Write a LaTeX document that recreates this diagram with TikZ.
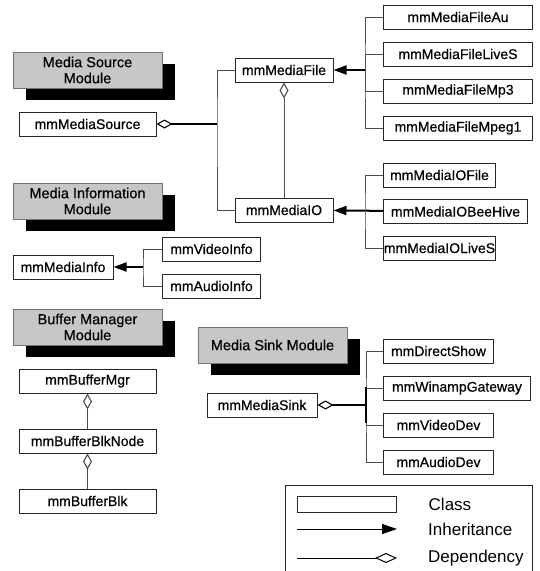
\documentclass[tikz,border=0pt]{standalone}
\usepackage{fontspec}
\setmainfont{Liberation Sans}
\newfontfamily\umlfont{Liberation Sans}[UprightFeatures={FakeBold=0.5}]
\usetikzlibrary{positioning,arrows.meta,shadows}

\begin{document}
\begin{tikzpicture}[
  x=1pt, y=-1pt,
  box/.style={rectangle,draw=black!85,line width=1pt,fill=white,inner sep=0pt,minimum height=24pt,font=\umlfont\fontsize{14}{16}\selectfont},
  modbox/.style={rectangle,draw=black!55,line width=1pt,fill=black!22,inner sep=0pt,minimum width=149pt,minimum height=36pt,align=center,font=\umlfont\fontsize{14.5}{16}\selectfont,general shadow={fill=black,shadow xshift=13pt,shadow yshift=-12pt}},
  link/.style={draw=black!70,line width=0.9pt},
  bus/.style={draw=black,line width=2pt},
  inherit/.style={-{Triangle[length=13pt,width=9pt]}},
  depend/.style={-{Diamond[open,length=16pt,width=9pt,line width=1.1pt]}},
  legtext/.style={inner sep=0pt,font=\fontsize{17}{19}\selectfont}
]
  \useasboundingbox (0,0) rectangle (539,571);

  % modules
  \node [modbox] (srcmod) at (87.5,70) {Media Source\\Module};
  \node [modbox] (infomod) at (87.5,201) {Media Information\\Module};
  \node [modbox] (bufmod) at (87.5,327) {Buffer Manager\\Module};
  \node [modbox] (sinkmod) at (272.5,345) {Media Sink Module};

  % media source
  \node [box,minimum width=137pt] (src) at (87.5,124) {mmMediaSource};
  \node [box,minimum width=98pt] (file) at (284,70) {mmMediaFile};
  \node [box,minimum width=98pt] (io) at (284,210) {mmMediaIO};
  \coordinate (srcj) at (217,124);
  \draw [bus,depend] (srcj) -- (src);
  \draw [link] (file.west) -| (srcj) |- (io.west);
  \draw [link,depend] (io.north) -- (file.south);

  \node [box,minimum width=149pt,anchor=west] (au) at (383,17) {mmMediaFileAu};
  \node [box,minimum width=149pt,below=12pt of au.south west,anchor=north west] (lives) {mmMediaFileLiveS};
  \node [box,minimum width=149pt,below=12pt of lives.south west,anchor=north west] (mp3) {mmMediaFileMp3};
  \node [box,minimum width=149pt,below=12pt of mp3.south west,anchor=north west] (mpeg1) {mmMediaFileMpeg1};
  \coordinate (filej) at (365,70);
  \draw [bus,inherit] (filej) -- (file);
  \draw [link] (au.west) -| (filej) |- (mpeg1.west);
  \draw [link] (lives.west) -| (filej);
  \draw [link] (mp3.west) -| (filej);

  \node [box,minimum width=112pt,anchor=west] (iofile) at (383,175) {mmMediaIOFile};
  \node [box,minimum width=144pt,below=11.5pt of iofile.south west,anchor=north west] (bee) {mmMediaIOBeeHive};
  \node [box,minimum width=112pt,below=11.5pt of bee.south west,anchor=north west] (iolives) {mmMediaIOLiveS};
  \coordinate (ioj) at (365,210);
  \draw [bus,inherit] (bee) -- (io);
  \draw [link] (iofile.west) -| (ioj) |- (iolives.west);

  % media information
  \node [box,minimum width=100pt] (info) at (63,267) {mmMediaInfo};
  \node [box,minimum width=98pt,anchor=west] (video) at (162,249) {mmVideoInfo};
  \node [box,minimum width=98pt,below=12pt of video.south west,anchor=north west] (audio) {mmAudioInfo};
  \coordinate (infoj) at (143,267);
  \draw [bus,inherit] (infoj) -- (info);
  \draw [link] (video.west) -| (infoj) |- (audio.west);

  % buffer manager
  \node [box,minimum width=137pt] (mgr) at (87.5,381) {mmBufferMgr};
  \node [box,minimum width=137pt,below=35pt of mgr] (blknode) {mmBufferBlkNode};
  \node [box,minimum width=137pt,below=35pt of blknode] (blk) {mmBufferBlk};
  \draw [link,depend] (blknode) -- (mgr);
  \draw [link,depend] (blk) -- (blknode);

  % media sink
  \node [box,minimum width=110pt] (sink) at (262,405) {mmMediaSink};
  \node [box,minimum width=110pt,anchor=west] (dshow) at (383,351) {mmDirectShow};
  \node [box,minimum width=147pt,below=12pt of dshow.south west,anchor=north west] (winamp) {mmWinampGateway};
  \node [box,minimum width=110pt,below=12pt of winamp.south west,anchor=north west] (vdev) {mmVideoDev};
  \node [box,minimum width=110pt,below=12pt of vdev.south west,anchor=north west] (adev) {mmAudioDev};
  \coordinate (sinkj) at (366,405);
  \draw [bus,depend] (sinkj) -- (sink);
  \draw [link] (dshow.west) -| (sinkj) |- (adev.west);
  \draw [link] (winamp.west) -| (sinkj);
  \draw [link] (vdev.west) -| (sinkj);
  \draw [bus] ([yshift=18pt]sinkj) -- ([yshift=-18pt]sinkj);

  % legend
  \draw [line width=1pt,black!85] (285,485) rectangle (532,590);
  \node [box,minimum width=99pt,minimum height=16pt] (lgclass) at (346.5,504) {};
  \node [legtext,right=32pt of lgclass] (lgclasst) {Class};
  \coordinate (lginha) at (297,529);
  \coordinate (lginhb) at (397,529);
  \draw [black,line width=1pt,-{Triangle[length=15pt,width=10pt]}] (lginha) -- (lginhb);
  \node [legtext,right=31pt of lginhb] (lginht) {Inheritance};
  \coordinate (lgdepa) at (297,558);
  \coordinate (lgdepb) at (397,558);
  \draw [black,line width=1pt,-{Diamond[open,length=22pt,width=10pt]}] (lgdepa) -- (lgdepb);
  \node [legtext,right=31pt of lgdepb] (lgdept) {Dependency};
\end{tikzpicture}
\end{document}
